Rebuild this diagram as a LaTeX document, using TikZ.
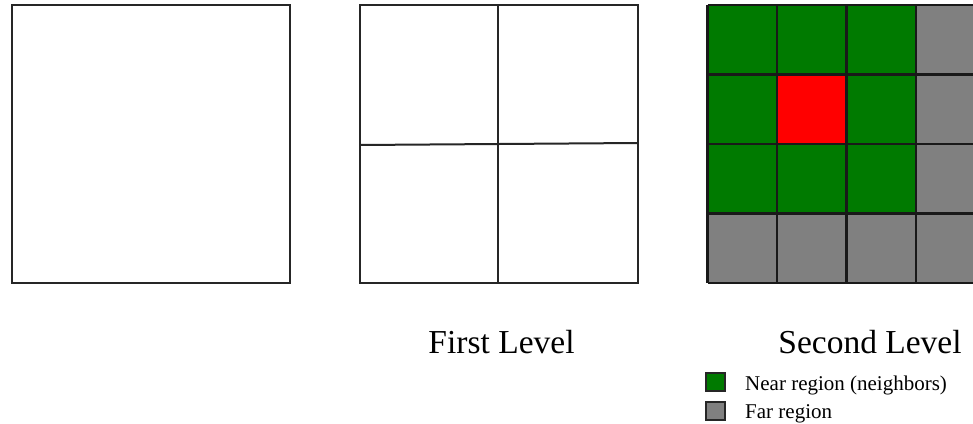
\documentclass[tikz,border=0pt]{standalone}
\usepackage{fontspec}
\setmainfont{Liberation Serif}
\definecolor{neargreen}{RGB}{0,122,0}
\definecolor{farred}{RGB}{255,0,0}
\definecolor{fargray}{RGB}{128,128,128}
\tikzset{
  boxline/.style={draw=black!85, line width=2pt},
  gridline/.style={draw=black!90, line width=2.4pt},
  title/.style={anchor=base, inner sep=0pt, font=\fontsize{33.5}{40}\selectfont},
  legendtext/.style={anchor=base west, inner sep=0pt, font=\fontsize{21}{25}\selectfont},
  legendbox/.style={draw=black!85, line width=1.4pt},
}
\begin{document}
\begin{tikzpicture}[x=1pt, y=-1pt]
\clip (0,0) rectangle (973,423);
\fill[white] (0,0) rectangle (973,423);
% first box
\draw[boxline] (12,5) rectangle (290,283);
% second box: first level
\draw[boxline] (360,5) rectangle (638,283);
\draw[boxline] (498,5) -- (498,283);
\draw[boxline] (360,145) -- (638,143);
% third box: second level
\foreach \i in {0,1,2,3}{
  \foreach \j in {0,1,2,3}{
    \fill[fargray] (707.5+69.5*\i,5+69.5*\j) rectangle ++(69.5,69.5);
  }
}
\foreach \i in {0,1,2}{
  \foreach \j in {0,1,2}{
    \fill[neargreen] (707.5+69.5*\i,5+69.5*\j) rectangle ++(69.5,69.5);
  }
}
\fill[farred] (777,74.5) rectangle ++(69.5,69.5);
\foreach \k in {0,1,2,3,4}{
  \draw[gridline] (707.5+69.5*\k,5) -- (707.5+69.5*\k,283);
  \draw[gridline] (707.5,5+69.5*\k) -- (985.5,5+69.5*\k);
}
% labels
\node[title] (first) at (501.5,353) {First Level};
\node[title] (second) at (870,353) {Second Level};
% legend
\draw[legendbox, fill=neargreen] (706,373) rectangle (725,391);
\draw[legendbox, fill=fargray] (706,402) rectangle (725,420);
\node[legendtext] (near) at (745,390) {Near region (neighbors)};
\node[legendtext] (far) at (745,418) {Far region};
\end{tikzpicture}
\end{document}
